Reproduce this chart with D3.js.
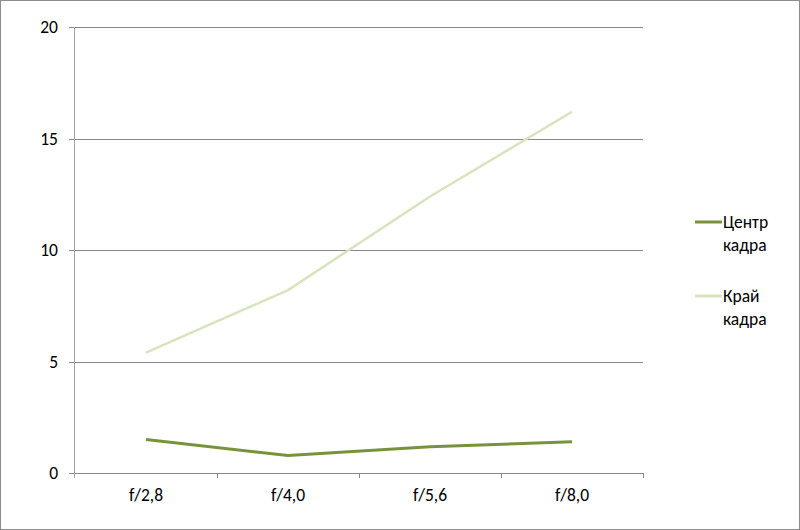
<!DOCTYPE html>
<html><head><meta charset="utf-8">
<script src="https://cdn.jsdelivr.net/npm/d3@7"></script>
<style>body{margin:0;background:#fff}svg{display:block;font-family:Calibri,Carlito,"Open Sans","Liberation Sans",sans-serif}</style>
</head><body>
<script>
const categories = ["f/2,8","f/4,0","f/5,6","f/8,0"];
const centerValues = [1.5, 0.78, 1.18, 1.4];
const edgeValues = [5.4, 8.2, 12.4, 16.2];
const yTicks = [0,5,10,15,20];
const seriesNames = [["Центр","кадра"],["Край","кадра"]];
const seriesColors = ["#77933C","#D7E4BD"];

const W=800,H=530;
const svg=d3.select("body").append("svg").attr("width",W).attr("height",H);
svg.append("rect").attr("x",0.5).attr("y",0.5).attr("width",W-1).attr("height",H-1).attr("fill","#fff").attr("stroke","#8c8c8c");

const x=d3.scaleBand().domain(categories).range([75,643]);
const y=d3.scaleLinear().domain([0,20]).range([473,27]);
const FS=17.5;

svg.append("g").selectAll("line").data(yTicks).join("line")
 .attr("x1",69).attr("x2",643).attr("y1",d=>Math.round(y(d))+0.5).attr("y2",d=>Math.round(y(d))+0.5)
 .attr("stroke","#888").attr("stroke-width",1);
svg.append("line").attr("x1",74.5).attr("x2",74.5).attr("y1",27).attr("y2",478).attr("stroke","#a6a6a6");
const bounds=categories.map(c=>x(c)).concat([x.range()[1]]);
svg.append("g").selectAll("line").data(bounds.slice(1)).join("line")
 .attr("x1",d=>Math.round(d)+0.5).attr("x2",d=>Math.round(d)+0.5).attr("y1",473).attr("y2",478).attr("stroke","#888");
svg.append("g").selectAll("text").data(yTicks).join("text")
 .attr("x",58).attr("y",d=>y(d)).attr("dy","0.35em").attr("text-anchor","end")
 .attr("font-size",FS).attr("fill","#000").text(d=>d);
svg.append("g").selectAll("text").data(categories).join("text")
 .attr("x",d=>x(d)+x.bandwidth()/2).attr("y",501).attr("text-anchor","middle")
 .attr("font-size",FS).attr("fill","#000").text(d=>d);

const line=d3.line().x((d,i)=>x(categories[i])+x.bandwidth()/2).y(d=>y(d));
svg.append("path").datum(edgeValues).attr("d",line).attr("fill","none").attr("stroke",seriesColors[1]).attr("stroke-width",2.5).attr("stroke-linejoin","round");
svg.append("path").datum(centerValues).attr("d",line).attr("fill","none").attr("stroke",seriesColors[0]).attr("stroke-width",3).attr("stroke-linejoin","round");

const lg=svg.append("g");
const ly=[222,296];
seriesNames.forEach((n,i)=>{
  lg.append("line").attr("x1",695).attr("x2",722).attr("y1",ly[i]).attr("y2",ly[i]).attr("stroke",seriesColors[i]).attr("stroke-width",3);
  lg.append("text").attr("x",723).attr("y",ly[i]).attr("dy","0.35em").attr("font-size",FS).text(n[0]);
  lg.append("text").attr("x",723).attr("y",ly[i]+23).attr("dy","0.35em").attr("font-size",FS).text(n[1]);
});
</script>
</body></html>
